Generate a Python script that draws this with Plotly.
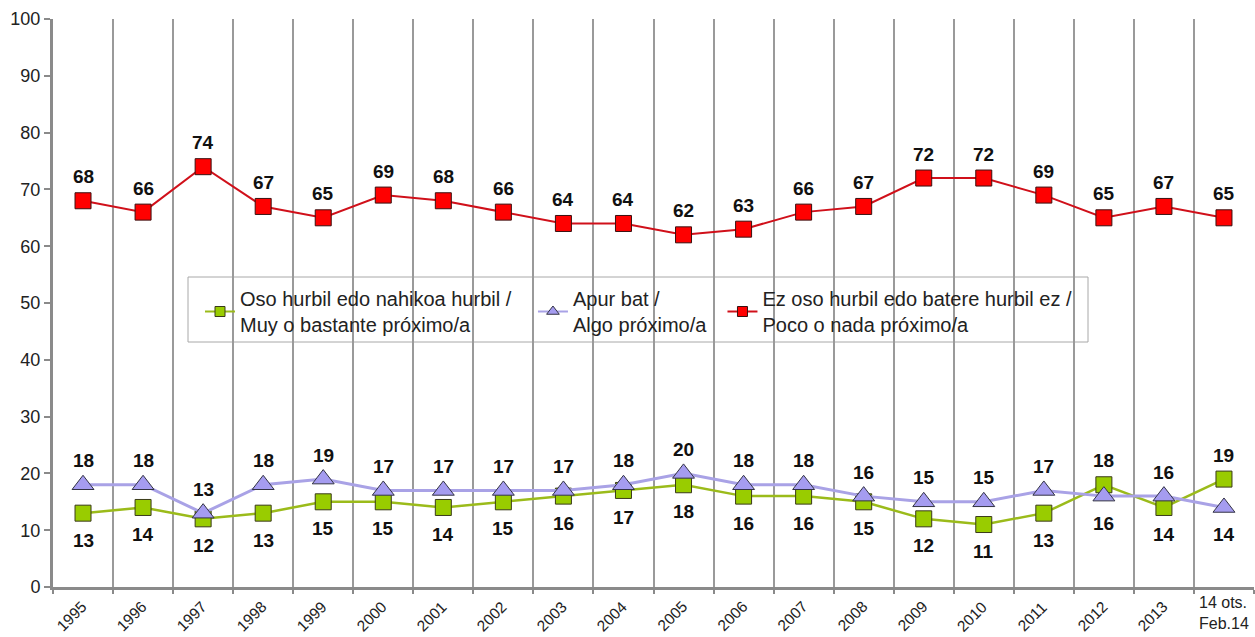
import plotly.graph_objects as go

# Survey periods (x categories) and displayed tick labels
periods = ["1995", "1996", "1997", "1998", "1999", "2000", "2001", "2002", "2003", "2004",
           "2005", "2006", "2007", "2008", "2009", "2010", "2011", "2012", "2013", "Feb14"]
period_labels = ["1995", "1996", "1997", "1998", "1999", "2000", "2001", "2002", "2003", "2004",
                 "2005", "2006", "2007", "2008", "2009", "2010", "2011", "2012", "2013", "14 ots.<br>Feb.14"]

# Percentages per response
muy_proximo = [13, 14, 12, 13, 15, 15, 14, 15, 16, 17, 18, 16, 16, 15, 12, 11, 13, 18, 14, 19]
algo_proximo = [18, 18, 13, 18, 19, 17, 17, 17, 17, 18, 20, 18, 18, 16, 15, 15, 17, 16, 16, 14]
poco_nada = [68, 66, 74, 67, 65, 69, 68, 66, 64, 64, 62, 63, 66, 67, 72, 72, 69, 65, 67, 65]

# Which side of the marker each value label sits on (+1 above, -1 below)
muy_side = [-1] * 17 + [1, -1, 1]
algo_side = [1] * 17 + [-1, 1, -1]
poco_side = [1] * 20

NB = "\u00a0"
names = [
    "Oso hurbil edo nahikoa hurbil /" + NB * 3 + "<br>Muy o bastante próximo/a",
    "Apur bat /<br>Algo próximo/a" + NB * 2,
    "Ez oso hurbil edo batere hurbil ez /<br>Poco o nada próximo/a",
]

FONT = "Liberation Sans, Arial"

xpos = list(range(len(periods)))
boundaries = [i - 0.5 for i in range(len(periods) + 1)]

styles = [
    dict(line=dict(color="#9BBB1A", width=2.5), symbol="square", size=16, fill="#99CC00", edge="#3A3A1A", lsize=10),
    dict(line=dict(color="#A9A2E6", width=3), symbol="triangle-up", size=19, fill="#A59CF0", edge="#333344", lsize=11),
    dict(line=dict(color="#D0101A", width=2), symbol="square", size=16, fill="#FF0000", edge="#3A1010", lsize=10),
]

fig = go.Figure()

for series, name, st in zip((muy_proximo, algo_proximo, poco_nada), names, styles):
    fig.add_trace(go.Scatter(
        x=xpos, y=series, name=name, mode="lines+markers", showlegend=False,
        legendgroup=name, line=st["line"],
        marker=dict(symbol=st["symbol"], size=st["size"], color=st["fill"],
                    line=dict(color=st["edge"], width=1)),
    ))
    # legend entry with a smaller key symbol
    fig.add_trace(go.Scatter(
        x=[None], y=[None], name=name, mode="lines+markers", legendgroup=name,
        line=dict(color=st["line"]["color"], width=2),
        marker=dict(symbol=st["symbol"], size=st["lsize"], color=st["fill"],
                    line=dict(color=st["edge"], width=1)),
    ))

annotations = []
for series, sides in ((muy_proximo, muy_side), (algo_proximo, algo_side), (poco_nada, poco_side)):
    for i, v, s in zip(xpos, series, sides):
        annotations.append(dict(
            x=i, y=v, xref="x", yref="y", text=str(v), showarrow=False,
            yshift=(24 if s > 0 else -27), xanchor="center", yanchor="middle",
            font=dict(family=FONT, size=19, color="#111111", weight="bold"),
        ))

# Category labels under the axis
for i, lab in zip(xpos, period_labels):
    if "<br>" in lab:
        annotations.append(dict(
            x=i, y=0, xref="x", yref="y", text=lab, showarrow=False,
            xanchor="center", yanchor="top", yshift=-5, align="left",
            font=dict(family=FONT, size=16, color="#222222"),
        ))
    else:
        annotations.append(dict(
            x=i, y=0, xref="x", yref="y", text=lab, showarrow=False, textangle=-45,
            xanchor="center", yanchor="middle", xshift=-12, yshift=-29,
            font=dict(family=FONT, size=15.5, color="#222222"),
        ))

# Legend frame
shapes = [dict(
    type="rect", xref="paper", yref="paper",
    x0=(188 - 53) / 1201, x1=(1088 - 53) / 1201,
    y0=(587 - 342) / 568, y1=(587 - 277) / 568,
    line=dict(color="#A8A8A8", width=1), fillcolor="white", layer="below",
)]

fig.update_layout(
    width=1255, height=637,
    margin=dict(l=53, r=1, t=19, b=50),
    paper_bgcolor="white", plot_bgcolor="white",
    font=dict(family=FONT, size=18, color="#222222"),
    showlegend=True,
    legend=dict(
        orientation="h", x=(200 - 53) / 1201, y=(587 - 279) / 568,
        xanchor="left", yanchor="top",
        bgcolor="rgba(0,0,0,0)", borderwidth=0,
        font=dict(family=FONT, size=20, color="#222222"),
        itemwidth=30, traceorder="normal",
    ),
    annotations=annotations,
    shapes=shapes,
    xaxis=dict(
        range=[-0.5, len(periods) - 0.5],
        tickmode="array", tickvals=boundaries,
        showgrid=True, gridcolor="#9A9A9A", gridwidth=1.5,
        showline=True, linecolor="#8A8A8A", linewidth=3,
        ticks="outside", ticklen=4, tickcolor="#8A8A8A", tickwidth=2,
        showticklabels=False, zeroline=False,
    ),
    yaxis=dict(
        range=[0, 100], dtick=10, showgrid=False, zeroline=False,
        showline=True, linecolor="#8A8A8A", linewidth=3,
        ticks="outside", ticklen=6, tickcolor="#8A8A8A", tickwidth=2,
        tickfont=dict(size=18, color="#222222"),
    ),
)

fig.write_html("out.html")
